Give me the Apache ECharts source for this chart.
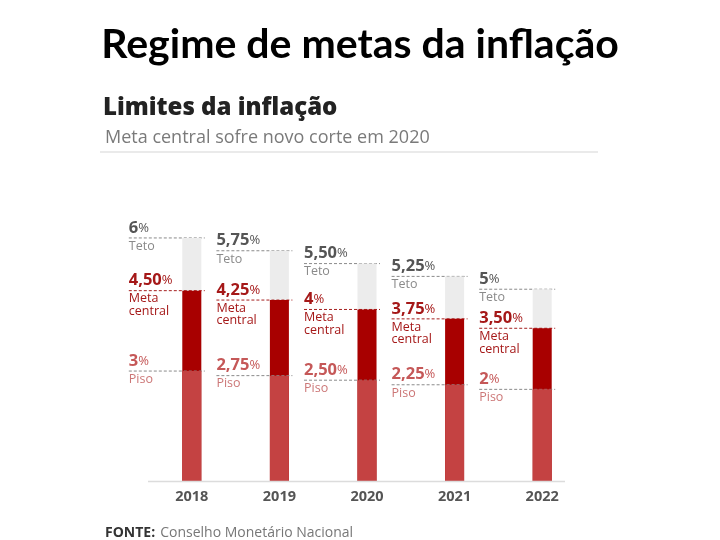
<!DOCTYPE html>
<html>
<head>
<meta charset="utf-8">
<script src="https://cdn.jsdelivr.net/npm/echarts@6/dist/echarts.min.js"></script>
<style>html,body{margin:0;padding:0;background:#fff}#c{width:720px;height:540px}</style>
</head>
<body>
<div id="c"></div>
<script>
const years = ['2018', '2019', '2020', '2021', '2022'];
const teto = [6, 5.75, 5.5, 5.25, 5];
const meta = [4.5, 4.25, 4, 3.75, 3.5];
const piso = [3, 2.75, 2.5, 2.25, 2];
const segNames = ['Teto', 'Meta\ncentral', 'Piso'];

const FONT = '"Open Sans", sans-serif';
function fmt(v) {
  return Number.isInteger(v) ? String(v) : v.toFixed(2).replace('.', ',');
}

function makeRender(cfg) {
  return function (params, api) {
    const cat = api.value(0), v = api.value(1);
    const pt = api.coord([cat, v]);
    const cs = params.coordSys;
    const bottom = cs.y + cs.height;
    const cx = pt[0], y = pt[1];
    const lx = cx - 63;
    return {
      type: 'group',
      children: [
        { type: 'line', shape: { x1: lx, y1: y, x2: cx + 13, y2: y },
          style: { stroke: cfg.lineColor, lineWidth: 1, lineDash: [3, 2] } },
        { type: 'rect', shape: { x: cx - 9.5, y: y, width: 19, height: bottom - y },
          style: { fill: cfg.fill } },
        { type: 'text', x: lx, y: y - 1.5,
          style: { text: '{v|' + fmt(v) + '}{p|%}', verticalAlign: 'bottom', align: 'left',
            rich: {
              v: { fontFamily: FONT, fontWeight: 'bold', fontSize: 16.5, fill: cfg.valColor },
              p: { fontFamily: FONT, fontSize: 13, fill: cfg.valColor }
            } } },
        { type: 'text', x: lx, y: y + 2,
          style: { text: cfg.caption, verticalAlign: 'top', align: 'left',
            fontFamily: FONT, fontSize: 12.5, lineHeight: 12.5, fill: cfg.capColor } }
      ]
    };
  };
}

const chart = echarts.init(document.getElementById('c'));
chart.setOption({
  animation: false,
  backgroundColor: '#fff',
  title: [
    { text: 'Regime de metas da inflação', left: 'center', top: 19,
      textStyle: { fontFamily: 'Lato, sans-serif', fontWeight: 'bold', fontSize: 41, color: '#000' } },
    { text: 'Limites da inflação', left: 98, top: 91,
      textStyle: { fontFamily: FONT, fontWeight: 800, fontSize: 24, color: '#222' } },
    { text: 'Meta central sofre novo corte em 2020', left: 100, top: 124,
      textStyle: { fontFamily: FONT, fontWeight: 'normal', fontSize: 18, color: '#7a7a7a' } },
    { text: '{b|FONTE:} {n|Conselho Monetário Nacional}', left: 100, top: 519,
      textStyle: { rich: {
        b: { fontFamily: FONT, fontWeight: 'bold', fontSize: 14, color: '#333' },
        n: { fontFamily: FONT, fontWeight: 'normal', fontSize: 14, color: '#777' } } } }
  ],
  graphic: [
    { type: 'line', shape: { x1: 100, y1: 152, x2: 598, y2: 152 }, style: { stroke: '#e3e3e3', lineWidth: 1.5 } },
    { type: 'line', shape: { x1: 148, y1: 481.5, x2: 565, y2: 481.5 }, style: { stroke: '#dcdcdc', lineWidth: 1.5 }, z: 10 }
  ],
  grid: { left: 148, top: 200, width: 438, height: 281 },
  xAxis: {
    type: 'category', data: years,
    axisLine: { show: false }, axisTick: { show: false },
    axisLabel: { margin: 8, fontFamily: FONT, fontWeight: 'bold', fontSize: 14.5, color: '#555' }
  },
  yAxis: [
    { type: 'value', min: 1.26, max: 6.74, show: false, splitLine: { show: false } },
    { type: 'value', min: -0.56, max: 6.91, show: false, splitLine: { show: false } },
    { type: 'value', min: -3.01, max: 12.35, show: false, splitLine: { show: false } }
  ],
  series: [
    { type: 'custom', name: 'Teto', yAxisIndex: 0, data: teto.map((v, i) => [i, v]),
      renderItem: makeRender({ fill: '#ececec', lineColor: '#8a8a8a', valColor: '#555', capColor: '#8a8a8a', caption: segNames[0] }) },
    { type: 'custom', name: 'Meta central', yAxisIndex: 1, data: meta.map((v, i) => [i, v]),
      renderItem: makeRender({ fill: '#a80000', lineColor: '#a52020', valColor: '#a51818', capColor: '#a51818', caption: segNames[1] }) },
    { type: 'custom', name: 'Piso', yAxisIndex: 2, data: piso.map((v, i) => [i, v]),
      renderItem: makeRender({ fill: '#c44242', lineColor: '#8a8a8a', valColor: '#c55858', capColor: '#cc7777', caption: segNames[2] }) }
  ]
});
</script>
</body>
</html>
